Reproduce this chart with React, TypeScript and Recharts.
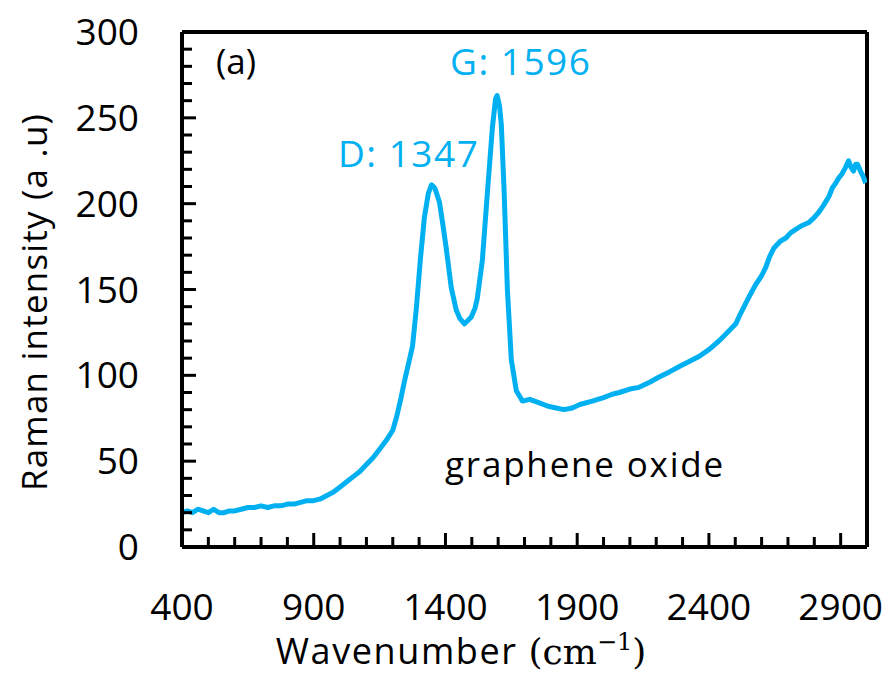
import { LineChart, Line, XAxis, YAxis, ReferenceLine } from "recharts";

// Raman spectrum of graphene oxide (wavenumber in cm^-1, intensity in a.u.)
const wavenumber = [
  400, 420, 440, 460, 480, 500, 520, 540, 560, 580, 600, 625, 650, 675, 700, 725, 750, 775,
  800, 825, 850, 875, 900, 925, 950, 975, 1000, 1025, 1050, 1075, 1100, 1125, 1150, 1175,
  1200, 1215, 1230, 1245, 1260, 1275, 1290, 1305, 1320, 1335, 1347, 1360, 1377, 1390, 1403,
  1422, 1441, 1455, 1472, 1485, 1498, 1512, 1521, 1540, 1559, 1578, 1590, 1596, 1605, 1612,
  1623, 1635, 1650, 1669, 1692, 1720, 1756, 1790, 1820, 1850, 1881, 1910, 1957, 2000, 2033,
  2060, 2100, 2135, 2175, 2211, 2250, 2286, 2325, 2362, 2400, 2438, 2470, 2502, 2520, 2540,
  2560, 2578, 2600, 2616, 2630, 2646, 2670, 2692, 2710, 2730, 2750, 2779, 2800, 2817, 2835,
  2855, 2868, 2881, 2893, 2904, 2918, 2930, 2940, 2949, 2957, 2964, 2975, 2985, 2995,
];
const intensity = [
  20, 21, 20, 22, 21, 20, 22, 20, 20, 21, 21, 22, 23, 23, 24, 23, 24, 24,
  25, 25, 26, 27, 27, 28, 30, 32, 35, 38, 41, 44, 48, 52, 57, 62,
  68, 76, 86, 97, 107, 117, 140, 168, 192, 206, 211, 209, 201, 188, 174,
  151, 138, 133, 130, 132, 134, 139, 145, 167, 206, 244, 261, 263, 257, 246,
  206, 150, 109, 91, 85, 86, 84, 82, 81, 80, 81, 83, 85, 87, 89,
  90, 92, 93, 96, 99, 102, 105, 108, 111, 115, 120, 125, 130, 136, 142,
  148, 153, 158, 163, 169, 174, 178, 180, 183, 185, 187, 189, 192, 195, 199,
  204, 209, 212, 215, 217, 221, 225, 221, 219, 223, 223, 219, 216, 212,
];

const xTicks = [
  400, 500, 600, 700, 800, 900, 1000, 1100, 1200, 1300, 1400, 1500, 1600, 1700, 1800,
  1900, 2000, 2100, 2200, 2300, 2400, 2500, 2600, 2700, 2800, 2900, 3000,
];
const xLabels = [400, 900, 1400, 1900, 2400, 2900];
const yTicks = [
  0, 10, 20, 30, 40, 50, 60, 70, 80, 90, 100, 110, 120, 130, 140, 150, 160, 170, 180, 190,
  200, 210, 220, 230, 240, 250, 260, 270, 280, 290, 300,
];
const yLabels = [0, 50, 100, 150, 200, 250, 300];

const data = wavenumber.map((w, i) => ({ w, v: intensity[i] }));

const CYAN = "#00B0F0";
const FONT = "'Open Sans', sans-serif";
const SERIF = "'DejaVu Serif', serif";

// inward-pointing ticks, long ones where a label sits
const XTick = ({ x, y, payload }: any) => {
  const major = xLabels.includes(payload.value);
  return (
    <g>
      <line x1={x} x2={x} y1={y} y2={y - (major ? 14 : 10)} stroke="#000" strokeWidth={3} />
      {major && (
        <text x={x} y={y + 73} textAnchor="middle" fontSize={37} fontFamily={FONT} fill="#000">
          {payload.value}
        </text>
      )}
    </g>
  );
};

const YTick = ({ x, y, payload }: any) => {
  const major = yLabels.includes(payload.value);
  return (
    <g>
      <line x1={x} x2={x + (major ? 14 : 10)} y1={y} y2={y} stroke="#000" strokeWidth={3} />
      {major && (
        <text x={x - 43} y={y + 13} textAnchor="end" fontSize={37} fontFamily={FONT} fill="#000">
          {payload.value}
        </text>
      )}
    </g>
  );
};

export default function App() {
  return (
    <div style={{ position: "relative", width: 889, height: 675, background: "#fff" }}>
      <style>{"body{margin:0}"}</style>
      <LineChart
        width={889}
        height={675}
        data={data}
        margin={{ top: 32, right: 22, bottom: 48, left: 82 }}
      >
        <XAxis
          dataKey="w"
          type="number"
          domain={[400, 3000]}
          ticks={xTicks}
          interval={0}
          tick={(p: any) => <XTick {...p} />}
          tickLine={false}
          tickSize={0}
          tickMargin={0}
          axisLine={{ stroke: "#000", strokeWidth: 4 }}
          height={80}
          allowDataOverflow
        />
        <YAxis
          type="number"
          domain={[0, 300]}
          ticks={yTicks}
          interval={0}
          tick={(p: any) => <YTick {...p} />}
          tickLine={false}
          tickSize={0}
          tickMargin={0}
          axisLine={{ stroke: "#000", strokeWidth: 4 }}
          width={100}
        />
        <ReferenceLine y={300} stroke="#000" strokeWidth={4} />
        <ReferenceLine x={3000} stroke="#000" strokeWidth={4} />
        <Line
          dataKey="v"
          type="linear"
          stroke={CYAN}
          strokeWidth={5}
          strokeLinejoin="round"
          dot={false}
          isAnimationActive={false}
        />
      </LineChart>

      <svg
        width={889}
        height={675}
        style={{ position: "absolute", left: 0, top: 0, pointerEvents: "none" }}
      >
        <text
          transform="translate(33,302) rotate(-90)"
          textAnchor="middle"
          dominantBaseline="central"
          fontSize={35}
          letterSpacing={1.2}
          fontFamily={FONT}
          fill="#000"
        >
          Raman intensity (a .u)
        </text>
        <text x={461} y={664} textAnchor="middle" fill="#000">
          <tspan fontFamily={FONT} fontSize={36} letterSpacing={1.6}>
            Wavenumber{" "}
          </tspan>
          <tspan fontFamily={SERIF} fontSize={36}>(cm</tspan>
          <tspan fontFamily={SERIF} fontSize={24} dy={-14}>−1</tspan>
          <tspan fontFamily={SERIF} fontSize={36} dy={14}>)</tspan>
        </text>

        <text x={216} y={74} fontSize={35} fontFamily={FONT} fill="#000">(a)</text>
        <text x={338} y={167} fontSize={37} letterSpacing={1.5} fontFamily={FONT} fill={CYAN}>
          D: 1347
        </text>
        <text x={450} y={75} fontSize={37} letterSpacing={1.5} fontFamily={FONT} fill={CYAN}>
          G: 1596
        </text>
        <text x={445} y={477} fontSize={35} letterSpacing={1.8} fontFamily={FONT} fill="#000">
          graphene oxide
        </text>
      </svg>
    </div>
  );
}
